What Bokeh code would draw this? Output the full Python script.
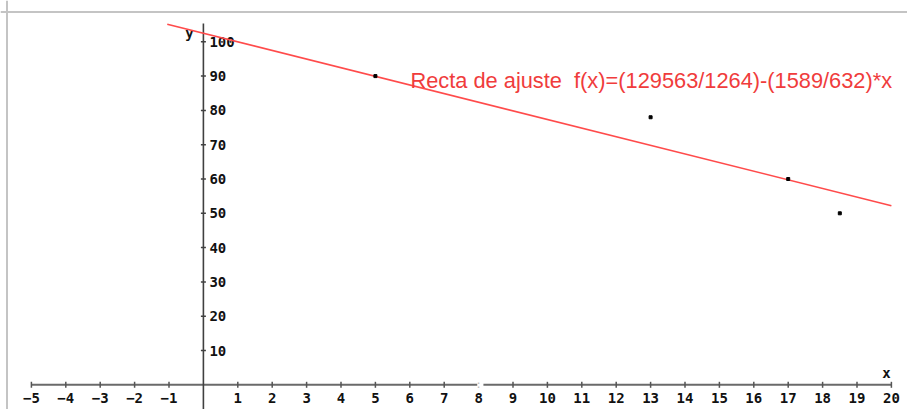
from bokeh.plotting import figure
from bokeh.models import Range1d, Span, Label
from bokeh.core.properties import value
from bokeh.embed import file_html
from bokeh.resources import INLINE

# ---- data ----
x_ticks = [-5, -4, -3, -2, -1, 1, 2, 3, 4, 5, 6, 7, 8, 9, 10, 11, 12, 13, 14, 15, 16, 17, 18, 19, 20]
x_tick_labels = [("\u2212" + str(-t)) if t < 0 else str(t) for t in x_ticks]
y_ticks = [10, 20, 30, 40, 50, 60, 70, 80, 90, 100]
y_tick_labels = [str(t) for t in y_ticks]

pts_x = [5, 13, 17, 18.5]
pts_y = [90, 78, 60, 50]

fit_a_num, fit_a_den = 129563, 1264
fit_b_num, fit_b_den = 1589, 632
fit_x = [-1.05, 20]
fit_y = [fit_a_num / fit_a_den - (fit_b_num / fit_b_den) * x for x in fit_x]
fit_label = "Recta de ajuste \u00a0f(x)=(129563/1264)-(1589/632)*x"

# ---- layout ----
W, H = 907, 409
PX_X, PX_Y = 34.4, 3.43          # pixels per data unit
ORIGIN_PX, ORIGIN_PY = 202.9, 384.3
x0, x1 = -ORIGIN_PX / PX_X, (W - ORIGIN_PX) / PX_X
y0, y1 = (ORIGIN_PY - H) / PX_Y, ORIGIN_PY / PX_Y

p = figure(width=W, height=H, x_range=Range1d(x0, x1), y_range=Range1d(y0, y1),
           output_backend="svg", toolbar_location=None,
           x_axis_location=None, y_axis_location=None,
           min_border=0, outline_line_color=None,
           background_fill_color="white", border_fill_color="white")
p.grid.grid_line_color = None

# frame lines (top and left)
p.add_layout(Span(location=y1 - 11.5 / PX_Y, dimension="width", line_color="#c4c4c4", line_width=2))
p.add_layout(Span(location=x0 + 6.5 / PX_X, dimension="height", line_color="#c4c4c4", line_width=2))

mono = value("DejaVu Sans Mono")

# x axis (with small break at 8)
p.segment(x0=[-5, 8.14], y0=[0, 0], x1=[7.96, 20], y1=[0, 0], line_color="#6a6a6a", line_width=2)
p.text(x=[8], y=[0], text=[":"], text_color="#c0c0c0", text_font=mono, text_font_size="11px",
       text_align="center", text_baseline="middle")
# y axis
p.segment(x0=[0], y0=[y0], x1=[0], y1=[105.3], line_color="#404040", line_width=1.6)

# ticks
tx = [t for t in x_ticks if t != 8]
p.scatter(x=tx, y=[0] * len(tx), marker="dash", angle=1.5708, size=6, line_color="#555555", line_width=1.5)
p.scatter(x=[0] * len(y_ticks), y=y_ticks, marker="dash", size=5, line_color="#404040", line_width=1.5)

# tick labels
p.text(x=x_ticks, y=[0] * len(x_ticks), text=x_tick_labels, text_font=mono, text_font_style="bold",
       text_font_size="14px", text_color="#111111", text_align="center", text_baseline="top", y_offset=8)
p.text(x=[0] * len(y_ticks), y=y_ticks, text=y_tick_labels, text_font=mono, text_font_style="bold",
       text_font_size="14px", text_color="#111111", text_align="left", text_baseline="middle", x_offset=6)

# axis names
p.text(x=[0], y=[y1 - 32 / PX_Y], text=["y"], text_font=mono, text_font_style="bold", text_font_size="14px",
       text_color="#111111", text_align="center", text_baseline="middle", x_offset=-14)
p.text(x=[20], y=[0], text=["x"], text_font=mono, text_font_style="bold", text_font_size="14px",
       text_color="#111111", text_align="center", text_baseline="middle", x_offset=-5, y_offset=-12)

# fitted line
p.line(x=fit_x, y=fit_y, line_color="#ff4b4b", line_width=1.6)

# data points
p.scatter(x=pts_x, y=pts_y, marker="square", size=3, fill_color="black", line_color="black")

# fit label
p.add_layout(Label(x=6.02, y=88.7, text=fit_label, text_font="Liberation Sans", text_font_size="21.8px",
                   text_color="#f03c3c", text_baseline="middle", text_align="left"))

open("out.html", "w").write(file_html(p, INLINE))
